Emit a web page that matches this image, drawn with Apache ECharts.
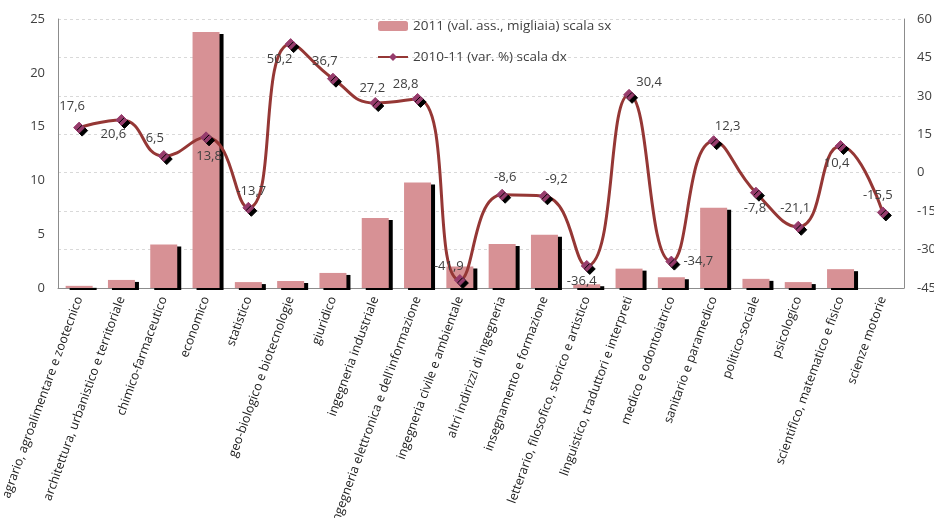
<!DOCTYPE html>
<html>
<head>
<meta charset="utf-8">
<script src="https://cdn.jsdelivr.net/npm/echarts@6/dist/echarts.min.js"></script>
<style>
  html, body { margin: 0; padding: 0; background: #fff; }
  #main { width: 934px; height: 518px; }
</style>
</head>
<body>
<div id="main"></div>
<script>
// gruppi di corsi
var categorie = [
  'agrario, agroalimentare e zootecnico',
  'architettura, urbanistico e territoriale',
  'chimico-farmaceutico',
  'economico',
  'statistico',
  'geo-biologico e biotecnologie',
  'giuridico',
  'ingegneria industriale',
  "ingegneria elettronica e dell'informazione",
  'ingegneria civile e ambientale',
  'altri indirizzi di ingegneria',
  'insegnamento e formazione',
  'letterario, filosofico, storico e artistico',
  'linguistico, traduttori e interpreti',
  'medico e odontoiatrico',
  'sanitario e paramedico',
  'politico-sociale',
  'psicologico',
  'scientifico, matematico e fisico',
  'scienze motorie'
];

// 2011 valori assoluti (migliaia) - scala sx
var valori2011 = [0.2, 0.75, 4.05, 23.8, 0.55, 0.65, 1.4, 6.5, 9.8, 2.0,
  4.1, 4.95, 0.35, 1.8, 1.0, 7.45, 0.85, 0.55, 1.75, 0];

// 2010-11 variazione % - scala dx
var variazione = [17.6, 20.6, 6.5, 13.8, -13.7, 50.2, 36.7, 27.2, 28.8, -41.9,
  -8.6, -9.2, -36.4, 30.4, -34.7, 12.3, -7.8, -21.1, 10.4, -15.5];

// spostamento etichette rispetto al marker (come nel grafico excel)
var spostEtichette = [
  [-7, -21], [-8, 14], [-9, -18], [3, 19], [3, -17], [-11, 15], [-8, -17],
  [-3, -15], [-12, -15], [-11, -14], [3, -17], [12, -17], [-5, 15], [20, -13],
  [27, 0], [14, -15], [-1, 16], [-3, -18], [-4, 17], [-5, -17]
];

var nomeBarre = '2011 (val. ass., migliaia) scala sx';
var nomeLinea = '2010-11 (var. %) scala dx';

var chart = echarts.init(document.getElementById('main'), null, { renderer: 'canvas' });

var font = 'Open Sans';

chart.setOption({
  animation: false,
  textStyle: { fontFamily: font },
  legend: {
    orient: 'vertical',
    left: 372,
    top: 14,
    itemWidth: 30,
    itemHeight: 10,
    itemGap: 17,
    textStyle: { fontSize: 13.5, color: '#404040', fontFamily: font },
    data: [nomeBarre, nomeLinea]
  },
  grid: {
    left: 58,
    right: 30,
    top: 19,
    bottom: 230,
    containLabel: false,
    outerBoundsMode: 'none'
  },
  xAxis: {
    type: 'category',
    data: categorie,
    axisLine: { lineStyle: { color: '#8c8c8c' } },
    axisTick: { show: false },
    axisLabel: {
      interval: 0,
      rotate: 70,
      fontSize: 12.5,
      color: '#1a1a1a',
      margin: 9
    }
  },
  yAxis: [{
    type: 'value',
    min: 0,
    max: 25,
    interval: 5,
    position: 'left',
    axisLine: { show: true, lineStyle: { color: '#8c8c8c' } },
    axisTick: { show: false },
    splitLine: { show: false },
    axisLabel: { fontSize: 13, color: '#404040', margin: 13 }
  }, {
    type: 'value',
    min: -45,
    max: 60,
    interval: 15,
    position: 'right',
    axisLine: { show: true, lineStyle: { color: '#8c8c8c' } },
    axisTick: { show: false },
    splitLine: { show: true, lineStyle: { color: '#d9d9d9', type: [3, 3] } },
    axisLabel: { fontSize: 13, color: '#404040', margin: 13 }
  }],
  series: [{
    name: nomeBarre,
    type: 'bar',
    yAxisIndex: 0,
    barWidth: 27,
    data: valori2011,
    itemStyle: {
      color: '#d79195',
      shadowColor: '#000',
      shadowBlur: 0,
      shadowOffsetX: 4,
      shadowOffsetY: 2
    }
  }, {
    name: nomeLinea,
    type: 'line',
    yAxisIndex: 1,
    smooth: 0.5,
    symbol: 'diamond',
    symbolSize: 11,
    data: variazione.map(function (v, i) {
      return {
        value: v,
        label: { offset: spostEtichette[i] }
      };
    }),
    lineStyle: { color: '#953735', width: 3 },
    itemStyle: {
      color: '#963c6c',
      borderColor: '#963c6c',
      shadowColor: '#000',
      shadowBlur: 0,
      shadowOffsetX: 3,
      shadowOffsetY: 3
    },
    label: {
      show: true,
      position: 'inside',
      fontSize: 13,
      color: '#404040',
      fontFamily: font,
      formatter: function (p) {
        return String(p.value).replace('.', ',');
      }
    },
    z: 5
  }]
});
</script>
</body>
</html>
